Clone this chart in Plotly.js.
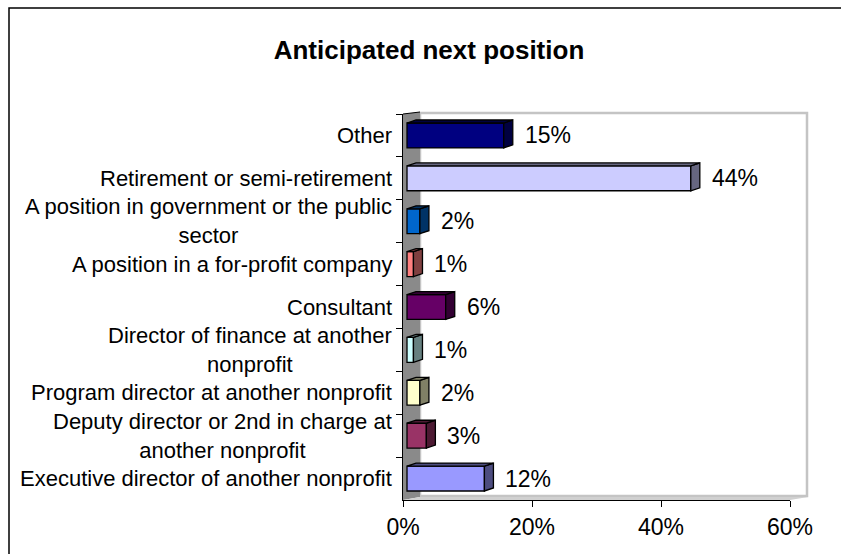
<!DOCTYPE html>
<html>
<head>
<meta charset="utf-8">
<script src="https://cdn.plot.ly/plotly-3.0.1.min.js"></script>
<style>
html,body{margin:0;padding:0;background:#fff;}
#chart{width:841px;height:554px;}
</style>
</head>
<body>
<div id="chart"></div>
<script>
// ---- data (top to bottom) ----
var categories = [
  "Other",
  "Retirement or semi-retirement",
  "A position in government or the public sector",
  "A position in a for-profit company",
  "Consultant",
  "Director of finance at another nonprofit",
  "Program director at another nonprofit",
  "Deputy director or 2nd in charge at another nonprofit",
  "Executive director of another nonprofit"
];
var tickLabels = [
  "Other",
  "Retirement or semi-retirement",
  "A position in government or the public<br>sector",
  "A position in a for-profit company",
  "Consultant",
  "Director of finance at another<br>nonprofit",
  "Program director at another nonprofit",
  "Deputy director or 2nd in charge at<br>another nonprofit",
  "Executive director of another nonprofit"
];
var values = [15, 44, 2, 1, 6, 1, 2, 3, 12];
var xTicks = [0, 20, 40, 60];

// ---- styles ----
var frontColors = ["#000080","#CCCCFF","#0066CC","#FF8080","#660066","#CCFFFF","#FFFFCC","#993366","#9999FF"];
var sideColors  = ["#000040","#666680","#003366","#804040","#330033","#668080","#808066","#4D1A33","#4D4D80"];
var FONT = "Liberation Sans, Arial, sans-serif";

var W = 841, H = 554, ML = 403, MR = 51, MT = 114, MB = 54;
var PW = W - ML - MR, PH = H - MT - MB;
function px(x){ return (x - ML) / PW; }
function py(y){ return (H - MB - y) / PH; }

var depth = 1.4, dy = 0.07, half = 0.29;

var shapes = [];
// outer chart border
shapes.push({type:'rect', xref:'paper', yref:'paper', x0:px(9), x1:px(850), y0:py(8), y1:py(560),
  line:{color:'#000', width:1.5}, fillcolor:'rgba(0,0,0,0)', layer:'below'});
// back wall
shapes.push({type:'rect', xref:'paper', yref:'paper', x0:px(420), x1:px(807), y0:py(496), y1:py(113),
  line:{color:'#c4c4c4', width:2.5}, fillcolor:'#ffffff', layer:'below'});
// left side wall
shapes.push({type:'path', xref:'paper', yref:'paper',
  path:'M '+px(403)+','+py(114)+' L '+px(420)+','+py(112)+' L '+px(420)+','+py(497)+' L '+px(403)+','+py(500)+' Z',
  fillcolor:'#8a8a8a', line:{width:0}, layer:'below'});
shapes.push({type:'line', xref:'paper', yref:'paper', x0:px(403), y0:py(114), x1:px(420), y1:py(112),
  line:{color:'#000', width:1}, layer:'below'});
// floor strip
shapes.push({type:'path', xref:'paper', yref:'paper',
  path:'M '+px(403)+','+py(500)+' L '+px(420)+','+py(497)+' L '+px(808)+','+py(497)+' L '+px(790)+','+py(500)+' Z',
  fillcolor:'#d0d0d0', line:{width:0}, layer:'below'});

var annotations = [];
values.forEach(function(v, i){
  // side face
  shapes.push({type:'path', xref:'x2', yref:'y',
    path:'M '+v+','+(i-half)+' L '+(v+depth)+','+(i-half-dy)+' L '+(v+depth)+','+(i+half-dy)+' L '+v+','+(i+half)+' Z',
    fillcolor:sideColors[i], line:{color:'#000', width:1.3}, layer:'above'});
  // top face
  shapes.push({type:'path', xref:'x2', yref:'y',
    path:'M 0,'+(i-half)+' L '+v+','+(i-half)+' L '+(v+depth)+','+(i-half-dy)+' L '+depth+','+(i-half-dy)+' Z',
    fillcolor:sideColors[i], line:{color:'#000', width:1.3}, layer:'above'});
  annotations.push({xref:'x2', yref:'y', x:v+depth, y:categories[i], xanchor:'left', yanchor:'middle',
    xshift:10, showarrow:false, text:v+'%', font:{family:FONT, size:23, color:'#000'}});
  annotations.push({xref:'paper', yref:'y', x:0, y:categories[i], xanchor:'right', yanchor:'middle',
    xshift:-9, showarrow:false, align:'center', text:tickLabels[i], font:{family:FONT, size:22, color:'#000'}});
});

var axisHolder = {type:'scatter', mode:'markers', x:[null], y:[categories[0]], xaxis:'x', yaxis:'y',
  hoverinfo:'none', showlegend:false};

var trace = {
  type:'bar', orientation:'h',
  x: values, y: categories, xaxis:'x2', yaxis:'y',
  width: 2*half,
  marker:{color: frontColors, line:{color:'#000', width:1.3}},
  hoverinfo:'none'
};

var layout = {
  width:W, height:H,
  margin:{l:ML, r:MR, t:MT, b:MB, pad:0},
  paper_bgcolor:'#fff', plot_bgcolor:'rgba(0,0,0,0)',
  showlegend:false,
  title:{text:'<b>Anticipated next position</b>', font:{family:FONT, size:26, color:'#000'},
    x:429/W, xanchor:'center', y:1-50/H, yanchor:'middle', xref:'container', yref:'container'},
  xaxis:{range:[0,60], tickvals:xTicks, ticktext:xTicks.map(function(t){return t+'%';}),
    ticks:'outside', ticklen:6, tickcolor:'#000', showline:true, linecolor:'#000', linewidth:1,
    showgrid:false, zeroline:false, tickfont:{family:FONT, size:23, color:'#000'}, ticklabelstandoff:0, fixedrange:true},
  xaxis2:{range:[-0.62, 59.38], overlaying:'x', visible:false, fixedrange:true},
  yaxis:{type:'category', categoryorder:'array', categoryarray:categories, range:[8.5,-0.5],
    tickson:'boundaries', ticks:'outside', ticklen:6, tickcolor:'#000', showticklabels:false,
    showline:true, linecolor:'#000', linewidth:1, showgrid:false, zeroline:false, fixedrange:true},
  shapes:shapes,
  annotations:annotations
};

Plotly.newPlot('chart', [axisHolder, trace], layout, {displayModeBar:false, staticPlot:true});
</script>
</body>
</html>
